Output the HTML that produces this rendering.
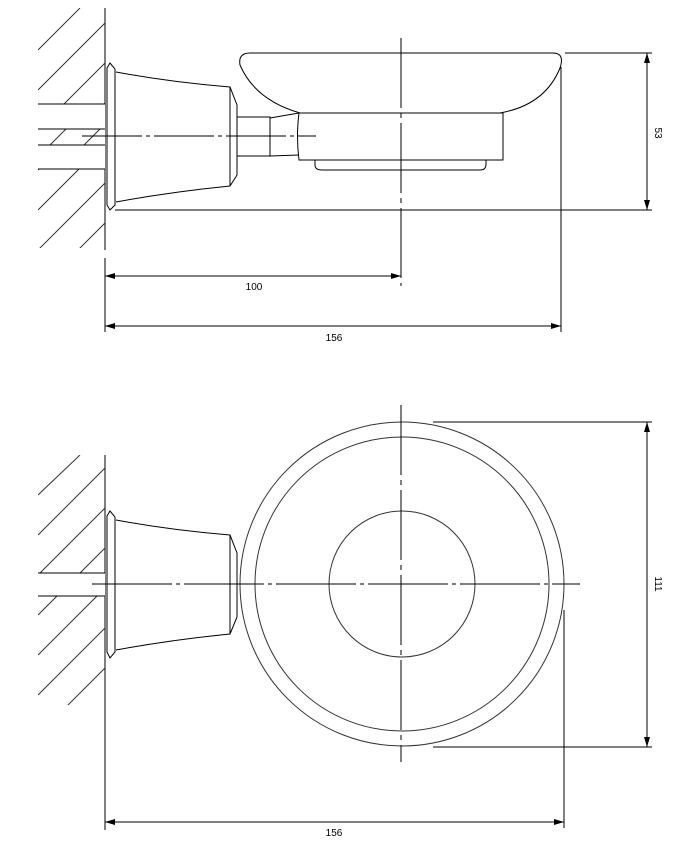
<!DOCTYPE html>
<html><head><style>
html,body{margin:0;padding:0;background:#fff;}
svg{display:block;}
text{font-family:"Liberation Sans",sans-serif;font-size:10px;fill:#000;}
</style></head><body>
<svg width="692" height="856" viewBox="0 0 692 856" xmlns="http://www.w3.org/2000/svg">
<defs>
<marker id="a" viewBox="0 0 10 6" refX="10" refY="3" markerWidth="10" markerHeight="6" orient="auto-start-reverse" markerUnits="userSpaceOnUse"><path d="M0,0 L10,3 L0,6 z" fill="#000"/></marker>
<clipPath id="h1"><rect x="38" y="8" width="67" height="240"/></clipPath>
<clipPath id="h2"><rect x="38" y="455" width="67" height="250"/></clipPath>
</defs>
<g stroke="#000" stroke-width="1" fill="none">
<!-- TOP VIEW -->
<line x1="105" y1="8" x2="105" y2="250"/>
<g clip-path="url(#h1)" stroke="#333">
<path d="M38,50 L80,8 M38,90 L105,23 M38,130 L105,63 M38,170 L105,103 M38,210 L105,143 M38,250 L105,183 M60,268 L105,223"/>
</g>
<g fill="#fff" stroke="none"><rect x="38" y="104" width="67" height="65"/></g>
<g clip-path="url(#h1)" stroke="#333"><path d="M50,145 L66,129 M84,145 L100,129"/></g>
<line x1="38" y1="104" x2="105" y2="104"/><line x1="38" y1="129" x2="105" y2="129"/>
<line x1="38" y1="145" x2="105" y2="145"/><line x1="38" y1="169" x2="105" y2="169"/>
<path d="M107,68 L110,63 L115,69 L115,205 L110,210 L107,205 Z"/>
<path d="M116,72 Q170,82 230,87 L237,105 L237,175 L230,186 Q170,192 116,202"/>
<line x1="230" y1="87" x2="230" y2="186"/>
<path d="M237,117 L270,117 L270,156 L237,156"/>
<path d="M270,118 L299,113 M270,156 L299,155"/>
<path d="M299,113 L503,113 L503,160 L299,160 Q296,136 299,113 Z"/>
<path d="M315,160 L315,165 Q315,170 322,170 L480,170 Q486,170 486,164 L486,160"/>
<path d="M300,113 Q255,100 240,65 Q238,53 250,53 L553,53 Q565,53 560,68 Q545,105 500,113"/>
<line x1="82" y1="136" x2="316" y2="136" stroke-dasharray="60,4,4,4"/>
<line x1="401" y1="38" x2="401" y2="286" stroke-dasharray="70,5,5,5"/>
<line x1="565" y1="53" x2="652" y2="53"/>
<line x1="115" y1="210" x2="652" y2="210"/>
<line x1="561" y1="67" x2="561" y2="332"/>
<line x1="647" y1="53" x2="647" y2="210" marker-start="url(#a)" marker-end="url(#a)"/>
<line x1="105" y1="258" x2="105" y2="332"/>
<line x1="105" y1="276" x2="401" y2="276" marker-start="url(#a)" marker-end="url(#a)"/>
<line x1="105" y1="326" x2="561" y2="326" marker-start="url(#a)" marker-end="url(#a)"/>
<!-- BOTTOM VIEW -->
<line x1="105" y1="455" x2="105" y2="830"/>
<g clip-path="url(#h2)" stroke="#333">
<path d="M38,495 L80,455 M38,535 L105,468 M38,575 L105,508 M38,615 L105,548 M38,655 L105,588 M38,695 L105,628 M55,718 L105,668"/>
</g>
<rect x="38" y="573" width="67" height="23" fill="#fff" stroke="none"/>
<line x1="38" y1="573" x2="105" y2="573"/><line x1="38" y1="596" x2="105" y2="596"/>
<path d="M107,516 L110,511 L115,517 L115,652 L110,658 L107,652 Z"/>
<path d="M116,520 Q170,530 230,535 L237,553 L237,617 L230,634 Q170,640 116,650"/>
<line x1="230" y1="535" x2="230" y2="634"/>
<circle cx="402" cy="584" r="162" stroke="#333"/>
<circle cx="402" cy="584" r="147" stroke="#333"/>
<circle cx="402" cy="584" r="73" stroke="#333"/>
<line x1="92" y1="584" x2="580" y2="584" stroke-dasharray="80,4,4,4"/>
<line x1="401" y1="405" x2="401" y2="762" stroke-dasharray="70,5,5,5"/>
<line x1="433" y1="422" x2="652" y2="422"/>
<line x1="433" y1="747" x2="652" y2="747"/>
<line x1="647" y1="422" x2="647" y2="747" marker-start="url(#a)" marker-end="url(#a)"/>
<line x1="564" y1="610" x2="564" y2="828"/>
<line x1="105" y1="822" x2="564" y2="822" marker-start="url(#a)" marker-end="url(#a)"/>
</g>
<text x="254" y="290" text-anchor="middle">100</text>
<text x="334" y="341" text-anchor="middle">156</text>
<text x="334" y="836" text-anchor="middle">156</text>
<text transform="translate(655,133) rotate(90)" text-anchor="middle">53</text>
<text transform="translate(655,584) rotate(90)" text-anchor="middle">111</text>
</svg>
</body></html>
